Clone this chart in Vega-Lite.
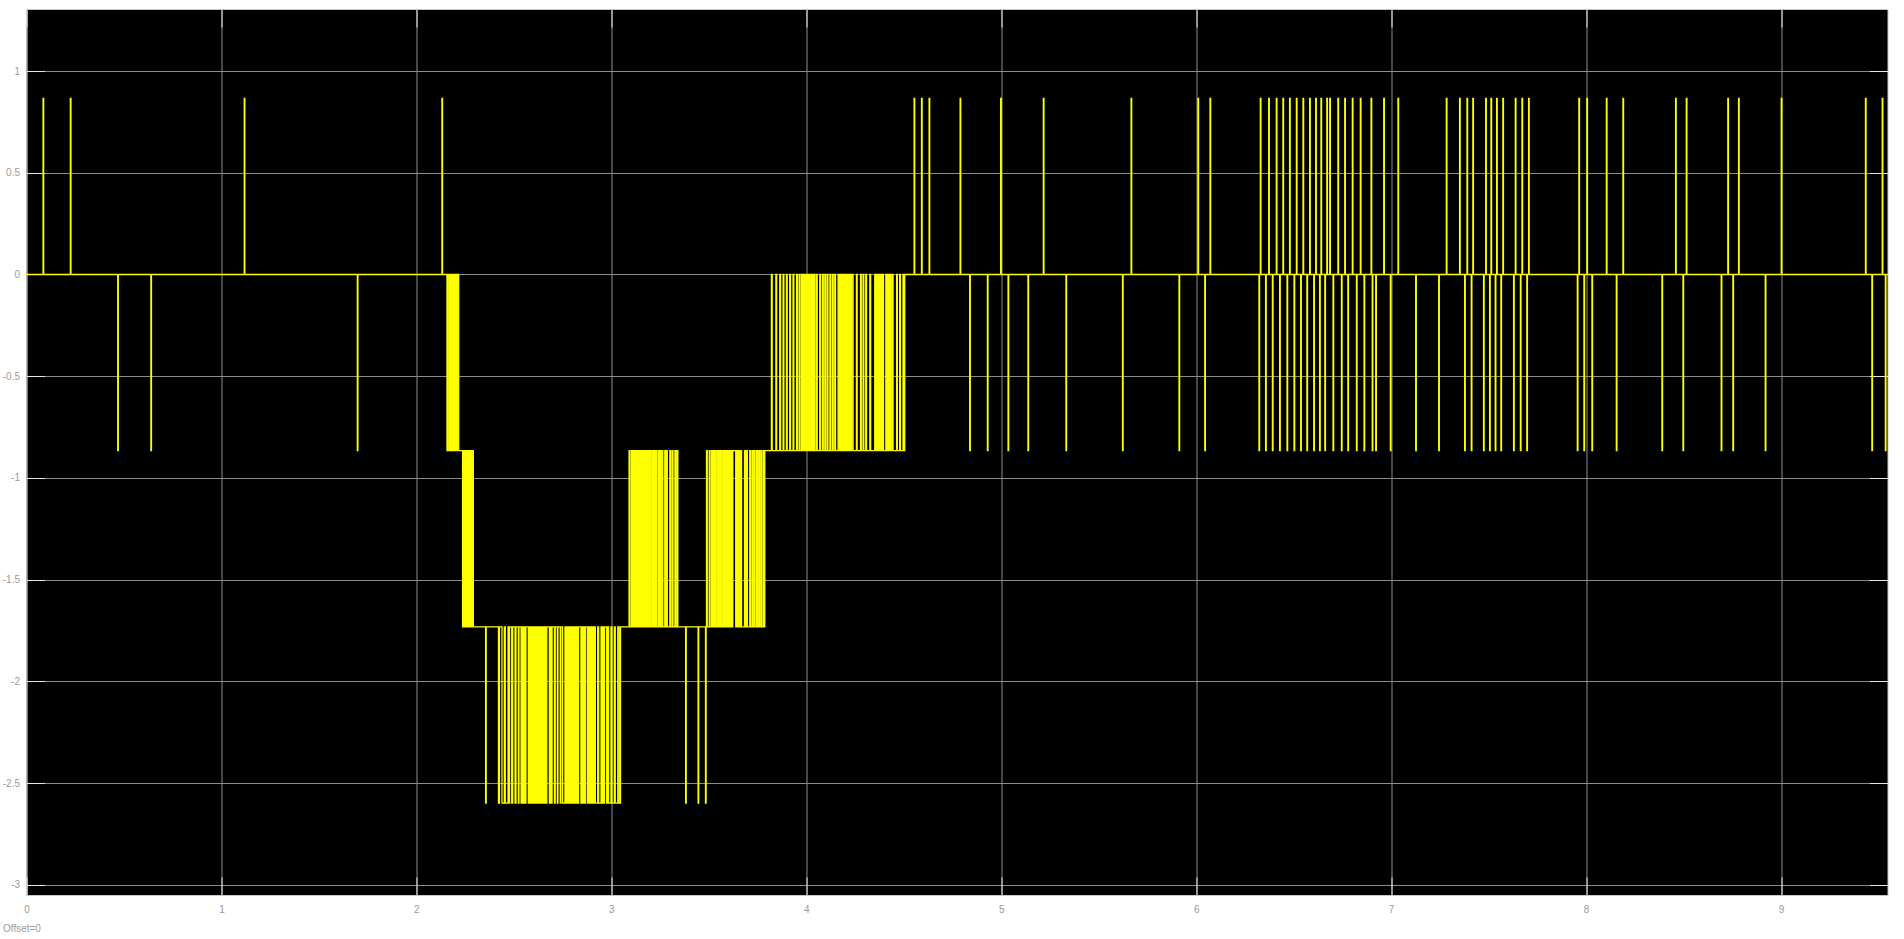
{
"$schema": "https://vega.github.io/schema/vega-lite/v6.json",
"width": 1861, "height": 886,
"autosize": {"type": "none"},
"padding": {"left": 26.5, "top": 9, "right": 16.5, "bottom": 44},
"background": "#ffffff",
"config": {"view": {"fill": "#000000", "stroke": "#c8c8c8", "strokeWidth": 1}},
"data": {"values": [
{"t":0,"v":0},
{"t":0.085,"v":0.866},{"t":0.088,"v":0},
{"t":0.225,"v":0.866},{"t":0.228,"v":0},
{"t":0.468,"v":-0.866},{"t":0.471,"v":0},
{"t":0.638,"v":-0.866},{"t":0.641,"v":0},
{"t":1.117,"v":0.866},{"t":1.12,"v":0},
{"t":1.697,"v":-0.866},{"t":1.7,"v":0},
{"t":2.131,"v":0.866},{"t":2.134,"v":0},
{"t":2.157,"v":-0.866},{"t":2.16,"v":0},
{"t":2.167,"v":-0.866},{"t":2.169,"v":0},
{"t":2.173,"v":-0.866},{"t":2.175,"v":0},
{"t":2.181,"v":-0.866},{"t":2.185,"v":0},
{"t":2.188,"v":-0.866},{"t":2.192,"v":0},
{"t":2.195,"v":-0.866},{"t":2.198,"v":0},
{"t":2.201,"v":-0.866},{"t":2.204,"v":0},
{"t":2.207,"v":-0.866},{"t":2.209,"v":0},
{"t":2.212,"v":-0.866},{"t":2.214,"v":0},
{"t":2.217,"v":-0.866},
{"t":2.237,"v":-1.732},
{"t":2.241,"v":-0.866},{"t":2.244,"v":-1.732},{"t":2.247,"v":-0.866},{"t":2.25,"v":-1.732},{"t":2.253,"v":-0.866},{"t":2.256,"v":-1.732},{"t":2.259,"v":-0.866},{"t":2.262,"v":-1.732},{"t":2.265,"v":-0.866},{"t":2.268,"v":-1.732},{"t":2.271,"v":-0.866},{"t":2.274,"v":-1.732},{"t":2.277,"v":-0.866},{"t":2.28,"v":-1.732},{"t":2.283,"v":-0.866},{"t":2.286,"v":-1.732},{"t":2.289,"v":-0.866},{"t":2.292,"v":-1.732},
{"t":2.355,"v":-2.598},{"t":2.358,"v":-1.732},
{"t":2.421,"v":-2.598},{"t":2.426,"v":-1.732},{"t":2.439,"v":-2.598},{"t":2.451,"v":-1.732},{"t":2.456,"v":-2.598},{"t":2.47,"v":-1.732},{"t":2.475,"v":-2.598},{"t":2.478,"v":-1.732},{"t":2.489,"v":-2.598},{"t":2.494,"v":-1.732},
{"t":2.506,"v":-2.598},{"t":2.511,"v":-1.732},{"t":2.523,"v":-2.598},{"t":2.526,"v":-1.732},{"t":2.537,"v":-2.598},{"t":2.542,"v":-1.732},{"t":2.547,"v":-2.598},{"t":2.552,"v":-1.732},{"t":2.557,"v":-2.598},{"t":2.562,"v":-1.732},
{"t":2.574,"v":-2.598},{"t":2.579,"v":-1.732},{"t":2.584,"v":-2.598},{"t":2.589,"v":-1.732},{"t":2.594,"v":-2.598},{"t":2.599,"v":-1.732},{"t":2.604,"v":-2.598},{"t":2.609,"v":-1.732},{"t":2.614,"v":-2.598},{"t":2.619,"v":-1.732},
{"t":2.624,"v":-2.598},{"t":2.629,"v":-1.732},{"t":2.634,"v":-2.598},{"t":2.639,"v":-1.732},{"t":2.644,"v":-2.598},{"t":2.649,"v":-1.732},{"t":2.654,"v":-2.598},{"t":2.659,"v":-1.732},{"t":2.664,"v":-2.598},{"t":2.669,"v":-1.732},
{"t":2.682,"v":-2.598},{"t":2.687,"v":-1.732},{"t":2.692,"v":-2.598},{"t":2.696,"v":-1.732},{"t":2.708,"v":-2.598},{"t":2.712,"v":-1.732},{"t":2.723,"v":-2.598},{"t":2.726,"v":-1.732},{"t":2.738,"v":-2.598},{"t":2.741,"v":-1.732},
{"t":2.75,"v":-2.598},{"t":2.762,"v":-1.732},{"t":2.767,"v":-2.598},{"t":2.772,"v":-1.732},{"t":2.777,"v":-2.598},{"t":2.782,"v":-1.732},{"t":2.787,"v":-2.598},{"t":2.792,"v":-1.732},{"t":2.797,"v":-2.598},{"t":2.802,"v":-1.732},
{"t":2.807,"v":-2.598},{"t":2.812,"v":-1.732},{"t":2.817,"v":-2.598},{"t":2.822,"v":-1.732},{"t":2.827,"v":-2.598},{"t":2.832,"v":-1.732},{"t":2.844,"v":-2.598},{"t":2.849,"v":-1.732},{"t":2.854,"v":-2.598},{"t":2.859,"v":-1.732},
{"t":2.864,"v":-2.598},{"t":2.868,"v":-1.732},{"t":2.878,"v":-2.598},{"t":2.883,"v":-1.732},{"t":2.888,"v":-2.598},{"t":2.893,"v":-1.732},{"t":2.898,"v":-2.598},{"t":2.903,"v":-1.732},{"t":2.908,"v":-2.598},{"t":2.913,"v":-1.732},
{"t":2.918,"v":-2.598},{"t":2.93,"v":-1.732},{"t":2.935,"v":-2.598},{"t":2.947,"v":-1.732},{"t":2.952,"v":-2.598},{"t":2.957,"v":-1.732},{"t":2.962,"v":-2.598},{"t":2.965,"v":-1.732},{"t":2.976,"v":-2.598},{"t":2.981,"v":-1.732},
{"t":2.986,"v":-2.598},{"t":2.998,"v":-1.732},{"t":3.003,"v":-2.598},{"t":3.015,"v":-1.732},{"t":3.02,"v":-2.598},{"t":3.033,"v":-1.732},{"t":3.04,"v":-2.598},{"t":3.047,"v":-1.732},
{"t":3.091,"v":-0.866},{"t":3.095,"v":-1.732},{"t":3.103,"v":-0.866},{"t":3.107,"v":-1.732},{"t":3.112,"v":-0.866},{"t":3.116,"v":-1.732},{"t":3.121,"v":-0.866},{"t":3.125,"v":-1.732},{"t":3.129,"v":-0.866},{"t":3.133,"v":-1.732},
{"t":3.137,"v":-0.866},{"t":3.141,"v":-1.732},{"t":3.146,"v":-0.866},{"t":3.15,"v":-1.732},{"t":3.155,"v":-0.866},{"t":3.159,"v":-1.732},{"t":3.163,"v":-0.866},{"t":3.167,"v":-1.732},{"t":3.172,"v":-0.866},{"t":3.176,"v":-1.732},
{"t":3.18,"v":-0.866},{"t":3.184,"v":-1.732},{"t":3.188,"v":-0.866},{"t":3.192,"v":-1.732},{"t":3.197,"v":-0.866},{"t":3.201,"v":-1.732},{"t":3.208,"v":-0.866},{"t":3.212,"v":-1.732},{"t":3.218,"v":-0.866},{"t":3.222,"v":-1.732},
{"t":3.228,"v":-0.866},{"t":3.232,"v":-1.732},{"t":3.24,"v":-0.866},{"t":3.244,"v":-1.732},{"t":3.249,"v":-0.866},{"t":3.253,"v":-1.732},{"t":3.26,"v":-0.866},{"t":3.264,"v":-1.732},{"t":3.274,"v":-0.866},{"t":3.278,"v":-1.732},
{"t":3.283,"v":-0.866},{"t":3.287,"v":-1.732},{"t":3.3,"v":-0.866},{"t":3.304,"v":-1.732},{"t":3.312,"v":-0.866},{"t":3.316,"v":-1.732},{"t":3.326,"v":-0.866},{"t":3.33,"v":-1.732},{"t":3.337,"v":-0.866},{"t":3.341,"v":-1.732},
{"t":3.381,"v":-2.598},{"t":3.384,"v":-1.732},{"t":3.445,"v":-2.598},{"t":3.448,"v":-1.732},{"t":3.483,"v":-2.598},{"t":3.486,"v":-1.732},
{"t":3.488,"v":-0.866},{"t":3.492,"v":-1.732},{"t":3.502,"v":-0.866},{"t":3.506,"v":-1.732},{"t":3.514,"v":-0.866},{"t":3.517,"v":-1.732},{"t":3.522,"v":-0.866},{"t":3.526,"v":-1.732},{"t":3.532,"v":-0.866},{"t":3.536,"v":-1.732},
{"t":3.543,"v":-0.866},{"t":3.547,"v":-1.732},{"t":3.553,"v":-0.866},{"t":3.557,"v":-1.732},{"t":3.562,"v":-0.866},{"t":3.566,"v":-1.732},
{"t":3.573,"v":-0.866},{"t":3.578,"v":-1.732},{"t":3.583,"v":-0.866},{"t":3.588,"v":-1.732},{"t":3.593,"v":-0.866},{"t":3.598,"v":-1.732},{"t":3.603,"v":-0.866},{"t":3.608,"v":-1.732},{"t":3.613,"v":-0.866},{"t":3.618,"v":-1.732},
{"t":3.623,"v":-0.866},{"t":3.638,"v":-1.732},{"t":3.643,"v":-0.866},{"t":3.648,"v":-1.732},{"t":3.653,"v":-0.866},{"t":3.658,"v":-1.732},{"t":3.663,"v":-0.866},{"t":3.668,"v":-1.732},{"t":3.683,"v":-0.866},{"t":3.688,"v":-1.732},
{"t":3.693,"v":-0.866},{"t":3.698,"v":-1.732},
{"t":3.71,"v":-0.866},{"t":3.714,"v":-1.732},{"t":3.722,"v":-0.866},{"t":3.726,"v":-1.732},{"t":3.733,"v":-0.866},{"t":3.737,"v":-1.732},{"t":3.745,"v":-0.866},{"t":3.749,"v":-1.732},{"t":3.756,"v":-0.866},{"t":3.76,"v":-1.732},
{"t":3.767,"v":-0.866},{"t":3.771,"v":-1.732},{"t":3.779,"v":-0.866},{"t":3.783,"v":-1.732},{"t":3.787,"v":-0.866},
{"t":3.821,"v":0},{"t":3.825,"v":-0.866},{"t":3.844,"v":0},{"t":3.848,"v":-0.866},{"t":3.864,"v":0},{"t":3.868,"v":-0.866},{"t":3.881,"v":0},{"t":3.885,"v":-0.866},{"t":3.898,"v":0},{"t":3.902,"v":-0.866},
{"t":3.915,"v":0},{"t":3.919,"v":-0.866},{"t":3.932,"v":0},{"t":3.936,"v":-0.866},{"t":3.95,"v":0},{"t":3.954,"v":-0.866},{"t":3.963,"v":0},{"t":3.967,"v":-0.866},
{"t":3.975,"v":0},{"t":3.979,"v":-0.866},{"t":3.983,"v":0},{"t":3.987,"v":-0.866},{"t":3.991,"v":0},{"t":3.995,"v":-0.866},{"t":3.999,"v":0},{"t":4.003,"v":-0.866},{"t":4.007,"v":0},{"t":4.011,"v":-0.866},
{"t":4.015,"v":0},{"t":4.019,"v":-0.866},{"t":4.023,"v":0},{"t":4.027,"v":-0.866},{"t":4.031,"v":0},{"t":4.035,"v":-0.866},{"t":4.039,"v":0},{"t":4.044,"v":-0.866},
{"t":4.052,"v":0},{"t":4.056,"v":-0.866},{"t":4.069,"v":0},{"t":4.073,"v":-0.866},{"t":4.083,"v":0},{"t":4.087,"v":-0.866},{"t":4.095,"v":0},{"t":4.099,"v":-0.866},{"t":4.107,"v":0},{"t":4.111,"v":-0.866},
{"t":4.121,"v":0},{"t":4.125,"v":-0.866},{"t":4.134,"v":0},{"t":4.138,"v":-0.866},{"t":4.146,"v":0},{"t":4.15,"v":-0.866},
{"t":4.163,"v":0},{"t":4.168,"v":-0.866},{"t":4.173,"v":0},{"t":4.178,"v":-0.866},{"t":4.183,"v":0},{"t":4.188,"v":-0.866},{"t":4.193,"v":0},{"t":4.198,"v":-0.866},{"t":4.203,"v":0},{"t":4.208,"v":-0.866},
{"t":4.213,"v":0},{"t":4.218,"v":-0.866},{"t":4.223,"v":0},{"t":4.228,"v":-0.866},{"t":4.233,"v":0},{"t":4.24,"v":-0.866},
{"t":4.257,"v":0},{"t":4.261,"v":-0.866},{"t":4.278,"v":0},{"t":4.282,"v":-0.866},{"t":4.291,"v":0},{"t":4.295,"v":-0.866},{"t":4.305,"v":0},{"t":4.309,"v":-0.866},{"t":4.326,"v":0},{"t":4.33,"v":-0.866},
{"t":4.351,"v":0},{"t":4.356,"v":-0.866},{"t":4.361,"v":0},{"t":4.366,"v":-0.866},{"t":4.371,"v":0},{"t":4.376,"v":-0.866},{"t":4.381,"v":0},{"t":4.386,"v":-0.866},{"t":4.391,"v":0},{"t":4.396,"v":-0.866},
{"t":4.408,"v":0},{"t":4.413,"v":-0.866},{"t":4.418,"v":0},{"t":4.423,"v":-0.866},{"t":4.428,"v":0},{"t":4.433,"v":-0.866},{"t":4.44,"v":0},{"t":4.445,"v":-0.866},
{"t":4.463,"v":0},{"t":4.467,"v":-0.866},{"t":4.479,"v":0},{"t":4.483,"v":-0.866},{"t":4.496,"v":0},{"t":4.499,"v":-0.866},{"t":4.505,"v":0},
{"t":4.553,"v":0.866},{"t":4.556,"v":0},{"t":4.591,"v":0.866},{"t":4.594,"v":0},{"t":4.63,"v":0.866},{"t":4.633,"v":0},{"t":4.789,"v":0.866},{"t":4.792,"v":0},
{"t":4.838,"v":-0.866},{"t":4.841,"v":0},{"t":4.929,"v":-0.866},{"t":4.932,"v":0},{"t":4.997,"v":0.866},{"t":5,"v":0},{"t":5.035,"v":-0.866},{"t":5.038,"v":0},
{"t":5.137,"v":-0.866},{"t":5.14,"v":0},{"t":5.216,"v":0.866},{"t":5.219,"v":0},{"t":5.332,"v":-0.866},{"t":5.335,"v":0},{"t":5.622,"v":-0.866},{"t":5.625,"v":0},
{"t":5.666,"v":0.866},{"t":5.669,"v":0},{"t":5.912,"v":-0.866},{"t":5.915,"v":0},{"t":6.009,"v":0.866},{"t":6.012,"v":0},{"t":6.044,"v":-0.866},{"t":6.047,"v":0},
{"t":6.071,"v":0.866},{"t":6.074,"v":0},{"t":6.322,"v":-0.866},{"t":6.325,"v":0},{"t":6.329,"v":0.866},{"t":6.332,"v":0},{"t":6.356,"v":-0.866},{"t":6.359,"v":0},
{"t":6.372,"v":0.866},{"t":6.375,"v":0},{"t":6.391,"v":-0.866},{"t":6.394,"v":0},{"t":6.411,"v":0.866},{"t":6.414,"v":0},{"t":6.428,"v":-0.866},{"t":6.431,"v":0},
{"t":6.445,"v":0.866},{"t":6.448,"v":0},{"t":6.466,"v":-0.866},{"t":6.469,"v":0},{"t":6.479,"v":0.866},{"t":6.482,"v":0},{"t":6.502,"v":-0.866},{"t":6.505,"v":0},
{"t":6.514,"v":0.866},{"t":6.517,"v":0},{"t":6.536,"v":-0.866},{"t":6.539,"v":0},{"t":6.548,"v":0.866},{"t":6.551,"v":0},{"t":6.568,"v":-0.866},{"t":6.571,"v":0},
{"t":6.582,"v":0.866},{"t":6.585,"v":0},{"t":6.603,"v":-0.866},{"t":6.606,"v":0},{"t":6.613,"v":0.866},{"t":6.616,"v":0},{"t":6.633,"v":-0.866},{"t":6.636,"v":0},
{"t":6.64,"v":0.866},{"t":6.643,"v":0},{"t":6.66,"v":-0.866},{"t":6.663,"v":0},{"t":6.67,"v":0.866},{"t":6.673,"v":0},{"t":6.685,"v":0.866},{"t":6.688,"v":0},
{"t":6.702,"v":-0.866},{"t":6.705,"v":0},{"t":6.727,"v":0.866},{"t":6.73,"v":0},{"t":6.745,"v":-0.866},{"t":6.748,"v":0},{"t":6.762,"v":0.866},{"t":6.765,"v":0},
{"t":6.778,"v":-0.866},{"t":6.781,"v":0},{"t":6.801,"v":0.866},{"t":6.804,"v":0},{"t":6.822,"v":-0.866},{"t":6.825,"v":0},{"t":6.842,"v":0.866},{"t":6.845,"v":0},
{"t":6.861,"v":-0.866},{"t":6.864,"v":0},{"t":6.897,"v":0.866},{"t":6.9,"v":0},{"t":6.903,"v":-0.866},{"t":6.906,"v":0},{"t":6.921,"v":-0.866},{"t":6.924,"v":0},
{"t":6.962,"v":0.866},{"t":6.965,"v":0},{"t":6.996,"v":-0.866},{"t":6.999,"v":0},{"t":7.035,"v":0.866},{"t":7.038,"v":0},{"t":7.126,"v":-0.866},{"t":7.129,"v":0},
{"t":7.244,"v":-0.866},{"t":7.247,"v":0},{"t":7.283,"v":0.866},{"t":7.286,"v":0},{"t":7.351,"v":0.866},{"t":7.354,"v":0},{"t":7.377,"v":-0.866},{"t":7.38,"v":0},
{"t":7.389,"v":0.866},{"t":7.392,"v":0},{"t":7.411,"v":-0.866},{"t":7.414,"v":0},{"t":7.419,"v":0.866},{"t":7.422,"v":0},{"t":7.474,"v":-0.866},{"t":7.477,"v":0},
{"t":7.485,"v":0.866},{"t":7.488,"v":0},{"t":7.505,"v":-0.866},{"t":7.508,"v":0},{"t":7.512,"v":0.866},{"t":7.515,"v":0},{"t":7.534,"v":-0.866},{"t":7.537,"v":0},
{"t":7.541,"v":0.866},{"t":7.544,"v":0},{"t":7.563,"v":-0.866},{"t":7.566,"v":0},{"t":7.573,"v":0.866},{"t":7.576,"v":0},{"t":7.628,"v":-0.866},{"t":7.631,"v":0},
{"t":7.637,"v":0.866},{"t":7.64,"v":0},{"t":7.663,"v":-0.866},{"t":7.666,"v":0},{"t":7.671,"v":0.866},{"t":7.674,"v":0},{"t":7.696,"v":-0.866},{"t":7.699,"v":0},
{"t":7.705,"v":0.866},{"t":7.708,"v":0},{"t":7.955,"v":-0.866},{"t":7.958,"v":0},{"t":7.963,"v":0.866},{"t":7.966,"v":0},{"t":7.989,"v":-0.866},{"t":7.992,"v":0},
{"t":8.004,"v":0.866},{"t":8.007,"v":0},{"t":8.03,"v":-0.866},{"t":8.033,"v":0},{"t":8.104,"v":0.866},{"t":8.107,"v":0},{"t":8.155,"v":-0.866},{"t":8.158,"v":0},
{"t":8.189,"v":0.866},{"t":8.192,"v":0},{"t":8.389,"v":-0.866},{"t":8.392,"v":0},{"t":8.459,"v":0.866},{"t":8.462,"v":0},{"t":8.497,"v":-0.866},{"t":8.5,"v":0},
{"t":8.514,"v":0.866},{"t":8.517,"v":0},{"t":8.693,"v":-0.866},{"t":8.696,"v":0},{"t":8.727,"v":0.866},{"t":8.73,"v":0},{"t":8.753,"v":-0.866},{"t":8.756,"v":0},
{"t":8.782,"v":0.866},{"t":8.785,"v":0},{"t":8.919,"v":-0.866},{"t":8.922,"v":0},{"t":9.001,"v":0.866},{"t":9.004,"v":0},{"t":9.433,"v":0.866},{"t":9.436,"v":0},
{"t":9.466,"v":-0.866},{"t":9.469,"v":0},{"t":9.519,"v":0.866},{"t":9.522,"v":0},{"t":9.535,"v":-0.866},{"t":9.538,"v":0},{"t":9.546,"v":0}
]},
"layer": [
{
"mark": {"type": "line", "interpolate": "step-after", "color": "#ffff00", "strokeWidth": 1.3},
"encoding": {
"x": {"field": "t", "type": "quantitative",
 "scale": {"domain": [0, 9.546], "nice": false, "zero": false},
 "axis": {"orient": "bottom", "values": [0,1,2,3,4,5,6,7,8,9], "grid": true, "gridColor": "#8c8c8c", "gridWidth": 1, "gridOpacity": 1,
  "domain": false, "ticks": true, "tickSize": -18, "tickColor": "#e8e8e8", "tickWidth": 1,
  "labelPadding": 27, "labelColor": "#9a9a9a", "labelFont": "Liberation Sans", "labelFontSize": 10,
  "labelExpr": "'' + datum.value", "labelFlush": false, "labelOverlap": false,
  "title": "Offset=0", "titleX": -24, "titleY": 33, "titleAlign": "left", "titleBaseline": "middle",
  "titleFont": "Liberation Sans", "titleFontSize": 10, "titleFontWeight": "normal", "titleColor": "#9a9a9a"}},
"y": {"field": "v", "type": "quantitative",
 "scale": {"domain": [-3.05, 1.305], "nice": false, "zero": false},
 "axis": {"orient": "left", "values": [-3,-2.5,-2,-1.5,-1,-0.5,0,0.5,1], "grid": true, "gridColor": "#8c8c8c", "gridWidth": 1, "gridOpacity": 1,
  "domain": false, "ticks": true, "tickSize": -18, "tickColor": "#e8e8e8", "tickWidth": 1,
  "labelPadding": 25, "labelColor": "#9a9a9a", "labelFont": "Liberation Sans", "labelFontSize": 10,
  "labelExpr": "'' + datum.value", "labelFlush": false, "labelOverlap": false, "title": null}}
}
},
{
"mark": {"type": "line", "interpolate": "step-after", "opacity": 0},
"encoding": {
"x": {"field": "t", "type": "quantitative",
 "axis": {"orient": "top", "values": [0,1,2,3,4,5,6,7,8,9], "grid": false, "domain": false, "labels": false,
  "ticks": true, "tickSize": -18, "tickColor": "#e8e8e8", "tickWidth": 1, "title": null}},
"y": {"field": "v", "type": "quantitative",
 "axis": {"orient": "right", "values": [-3,-2.5,-2,-1.5,-1,-0.5,0,0.5,1], "grid": false, "domain": false, "labels": false,
  "ticks": true, "tickSize": -18, "tickColor": "#e8e8e8", "tickWidth": 1, "title": null}}
}
}
],
"resolve": {"axis": {"x": "independent", "y": "independent"}}
}
